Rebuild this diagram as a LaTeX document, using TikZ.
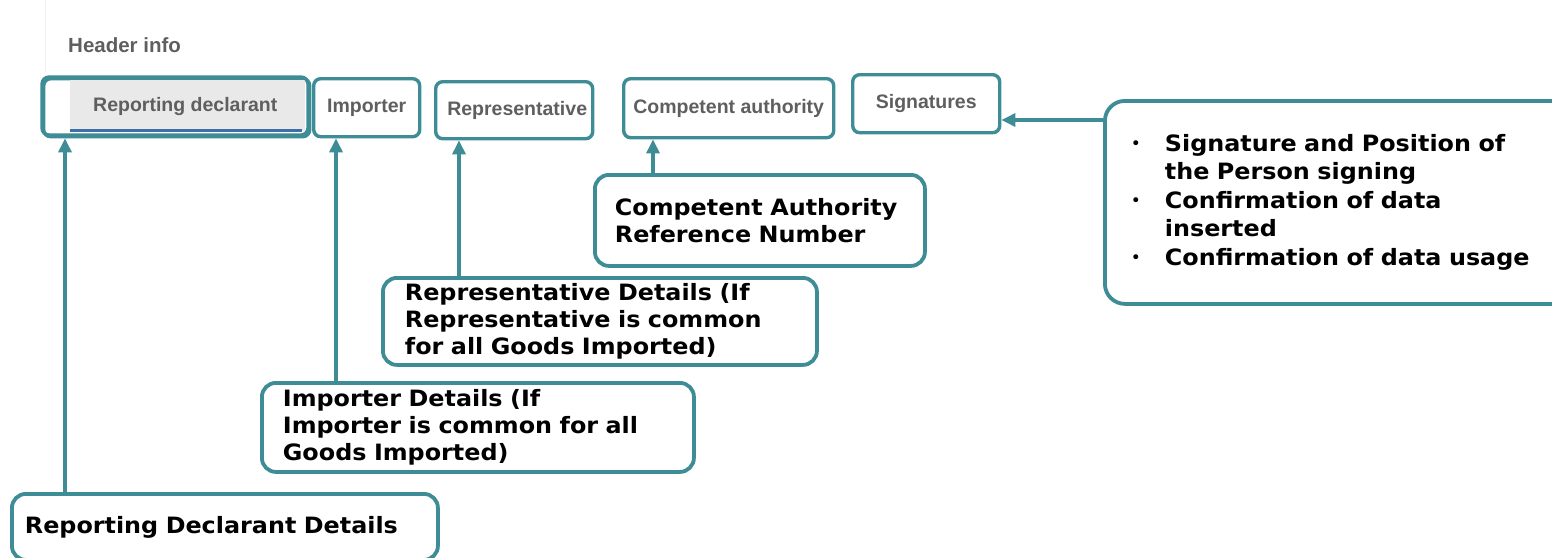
\documentclass[tikz,border=0pt]{standalone}
\usepackage{fontspec}
\setmainfont{DejaVu Sans}
\newfontfamily\calfont[FakeStretch=1.06]{DejaVu Sans}
\newfontfamily\tabfont{Liberation Sans}
\usetikzlibrary{arrows.meta}
\definecolor{tealc}{RGB}{62,140,150}
\definecolor{tabgray}{RGB}{95,95,95}
\definecolor{tabfill}{RGB}{233,233,233}
\definecolor{ulblue}{RGB}{62,110,170}
\tikzset{
  tabbox/.style={draw=tealc, line width=3.4pt, rounded corners=7pt, anchor=north west, inner sep=0pt, font=\tabfont\bfseries\fontsize{19.5}{22}\selectfont, text=tabgray, fill=white},
  callout/.style={draw=tealc, line width=3.8pt, rounded corners=14pt, anchor=north west, align=left, inner ysep=0pt, font=\calfont\bfseries\fontsize{22.5}{27}\selectfont, text=black, fill=white},
  conn/.style={draw=tealc, line width=3.2pt, -{Triangle[length=14pt,width=13pt]}}
}
\newcommand{\mybul}{{\normalfont\fontsize{17}{28.5}\selectfont\raisebox{2pt}{\textbullet}}}
\begin{document}
\begin{tikzpicture}[x=1pt,y=-1pt]
\useasboundingbox (0,0) rectangle (1552,557);
\fill[white] (0,0) rectangle (1552,557);
\draw[gray!12, line width=1pt] (45,0) -- (45,72);
\node[anchor=west, font=\tabfont\bfseries\fontsize{20.5}{24}\selectfont, text=tabgray, inner sep=0pt] (hdr) at (68,45) {Header info};

% tabs
\node[tabbox, minimum width=266pt, minimum height=58pt] (trd) at (42,77) {};
\fill[tabfill] (70,80) rectangle (305,131);
\draw[ulblue, line width=3pt] (70,130) -- (302,130);
\node[anchor=west, font=\tabfont\bfseries\fontsize{19.5}{22}\selectfont, text=tabgray, inner sep=0pt] (trdl) at (93,106) {Reporting declarant};
\draw[draw=tealc, line width=3.4pt, rounded corners=7pt] (42,77) rectangle (308,135);

\node[tabbox, minimum width=106pt, minimum height=58pt] (timp) at (312,77) {Importer};
\node[tabbox, minimum width=157pt, minimum height=57pt] (trep) at (434,80) {\hspace*{6pt}Representative};
\node[tabbox, minimum width=210pt, minimum height=59pt] (tca) at (622,77) {Competent authority};
\node[tabbox, minimum width=147pt, minimum height=58pt] (tsig) at (851,73) {Signatures};

% callouts
\node[callout, minimum width=323pt, minimum height=91pt, text width=290pt, inner xsep=20pt] (cca) at (593,173) {Competent Authority\\Reference Number};
\node[callout, minimum width=427pt, minimum height=87pt, text width=390pt, inner xsep=22pt] (crep) at (381,276) {Representative Details (If\\Representative is common\\for all Goods Imported)};
\node[callout, minimum width=424pt, minimum height=89pt, text width=390pt, inner xsep=21pt] (cimp) at (260,381) {Importer Details (If\\Importer is common for all\\Goods Imported)};
\node[callout, minimum width=426pt, minimum height=66pt, text width=400pt, inner xsep=12pt] (crd) at (10,492) {Reporting Declarant Details};
\node[callout, minimum width=447pt, minimum height=203pt, text width=415pt, inner xsep=26pt, rounded corners=20pt, font=\calfont\bfseries\fontsize{22.5}{28.5}\selectfont] (csig) at (1103,99) {%
\begin{tabular}{@{}p{34pt}@{}l@{}}
\mybul & Signature and Position of\\
 & the Person signing\\
\mybul & Confirmation of data\\
 & inserted\\
\mybul & Confirmation of data usage
\end{tabular}};

% connectors
\coordinate (p1) at (65,492);
\coordinate (p2) at (336,381);
\coordinate (p3) at (459,276);
\coordinate (p4) at (653,173);
\coordinate (p5) at (1103,120);
\draw[conn] (p1) -- (p1 |- trd.south);
\draw[conn] (p2) -- (p2 |- timp.south);
\draw[conn] (p3) -- (p3 |- trep.south);
\draw[conn] (p4) -- (p4 |- tca.south);
\draw[conn] (p5) -- (tsig.east |- p5);
\end{tikzpicture}
\end{document}
